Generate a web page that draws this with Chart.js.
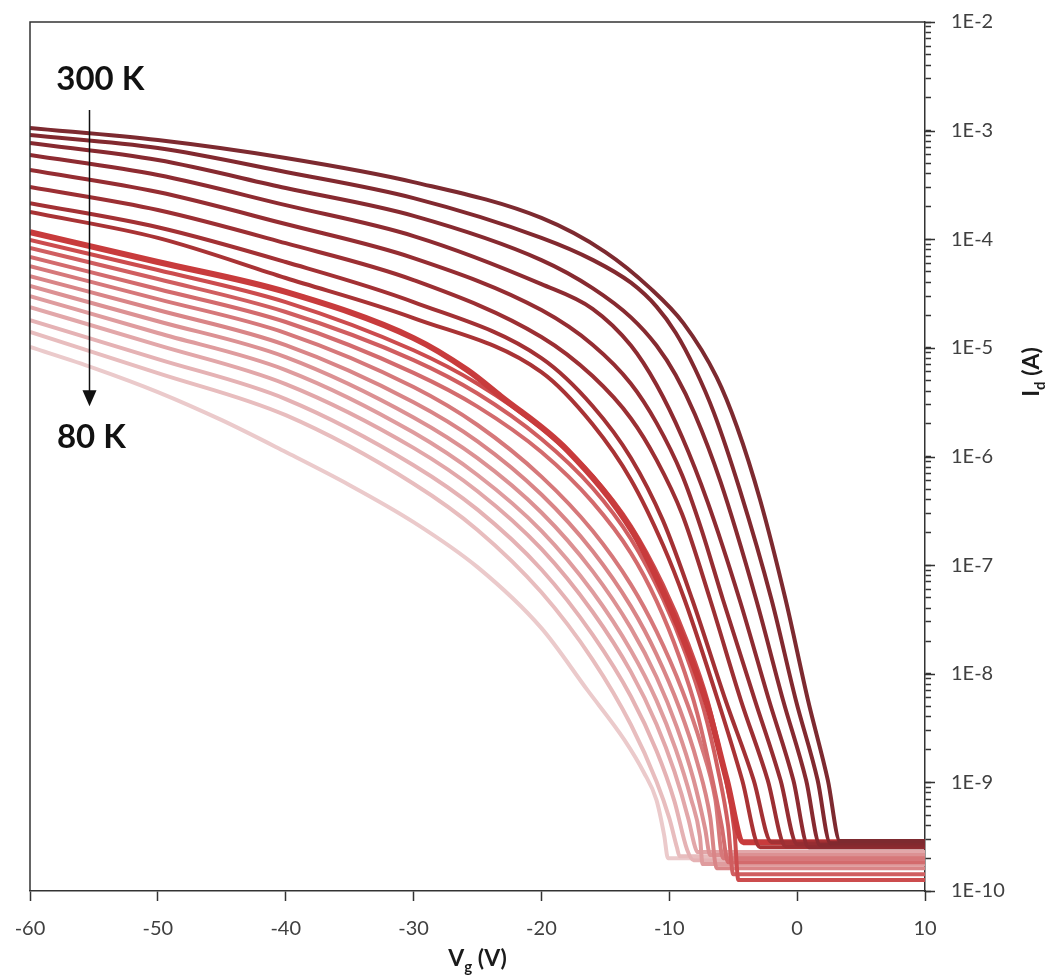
<!DOCTYPE html>
<html>
<head>
<meta charset="utf-8">
<script src="https://cdn.jsdelivr.net/npm/chart.js@4/dist/chart.umd.min.js"></script>
<style>
  html, body { margin: 0; padding: 0; background: #fff; }
</style>
</head>
<body>
<canvas id="myChart" width="1054" height="976"></canvas>
<script>

// gate voltage ticks and current decades
const vgTicks = [-60, -50, -40, -30, -20, -10, 0, 10];
const idExps = [-10, -9, -8, -7, -6, -5, -4, -3, -2];

// transfer curves, [Vg (V), Id (A)], 300 K first ... 80 K last
const curve01 = [[-60,1.06e-3],[-50,8.2e-4],[-40,5.6e-4],[-30,3.36e-4],[-20,1.57e-4],[-15,7.62e-5],[-11.5,3.55e-5],[-8.9,1.69e-5],[-6.3,5.38e-6],[-4.7,1.87e-6],[-2.9,4.0e-7],[-0.9,4.8e-8],[0.85,5.7e-9],[2.4,1.05e-9],[3.35,2.88e-10],[10,2.88e-10]];
const curve02 = [[-60,9.1e-4],[-50,6.92e-4],[-40,4.16e-4],[-30,2.39e-4],[-20,1.03e-4],[-16,6.46e-5],[-13,3.98e-5],[-11,2.4e-5],[-9.5,1.38e-5],[-8,6.46e-6],[-6.5,2.51e-6],[-4.5,5.0e-7],[-2.0,4.8e-8],[-0.1,5.7e-9],[1.6,1.05e-9],[2.6,2.75e-10],[10,2.75e-10]];
const curve03 = [[-60,7.69e-4],[-50,5.36e-4],[-40,2.96e-4],[-30,1.64e-4],[-20,6.43e-5],[-16,3.55e-5],[-13,1.91e-5],[-11,1.05e-5],[-9.5,5.62e-6],[-8,2.45e-6],[-6,5.89e-7],[-3.2,4.8e-8],[-1.1,5.7e-9],[0.7,1.05e-9],[1.8,2.64e-10],[10,2.64e-10]];
const curve04 = [[-60,5.96e-4],[-50,3.9e-4],[-40,2.06e-4],[-30,1.07e-4],[-20,3.86e-5],[-16,2.29e-5],[-13,1.05e-5],[-11,4.57e-6],[-9,1.51e-6],[-7,3.8e-7],[-4.5,4.8e-8],[-2.2,5.7e-9],[-0.3,1.05e-9],[0.9,2.53e-10],[10,2.53e-10]];
const curve05 = [[-60,4.34e-4],[-50,2.72e-4],[-40,1.38e-4],[-30,6.71e-5],[-20,2.23e-5],[-16,1.07e-5],[-13,4.68e-6],[-11,2.04e-6],[-9,6.76e-7],[-7.5,2.16e-7],[-5.8,4.8e-8],[-3.3,5.7e-9],[-1.3,1.05e-9],[0,2.7e-10],[10,2.7e-10]];
const curve06 = [[-60,3.03e-4],[-50,1.86e-4],[-40,9.2e-5],[-30,4.21e-5],[-20,1.26e-5],[-16,5.5e-6],[-13,2.24e-6],[-11,9.3e-7],[-9,2.95e-7],[-6.8,4.8e-8],[-4.4,5.7e-9],[-2.3,1.05e-9],[-0.9,2.58e-10],[10,2.58e-10]];
const curve07 = [[-60,2.15e-4],[-50,1.29e-4],[-40,6.17e-5],[-30,2.64e-5],[-20,8.05e-6],[-16,2.92e-6],[-13,9.7e-7],[-10.5,2.58e-7],[-8.2,4.8e-8],[-5.6,5.7e-9],[-3.4,1.05e-9],[-2,2.81e-10],[10,2.81e-10]];
const curve08 = [[-60,1.78e-4],[-50,1.03e-4],[-40,4.4e-5],[-30,1.88e-5],[-20,5.98e-6],[-16,1.98e-6],[-13,6.12e-7],[-10.5,1.54e-7],[-8.8,4.8e-8],[-6.2,5.7e-9],[-4.3,1.05e-9],[-2.9,2.53e-10],[10,2.53e-10]];
const curve09 = [[-60,1.16e-4],[-50,6.17e-5],[-40,3.27e-5],[-30,1.23e-5],[-25.8,6.25e-6],[-23.2,3.6e-6],[-18,1.15e-6],[-12.8,1.97e-7],[-10.2,4.8e-8],[-8.5,1.58e-8],[-7,5.0e-9],[-5.5,1.05e-9],[-4.2,2.81e-10],[10,2.81e-10]];
const curve10 = [[-60,9.83e-5],[-50,5.21e-5],[-40,2.64e-5],[-30,9.5e-6],[-25,4.68e-6],[-20,1.82e-6],[-16,6.61e-7],[-13,2.29e-7],[-10.5,6.61e-8],[-8.5,1.86e-8],[-7,5.62e-9],[-5.8,1.41e-9],[-4.9,3.55e-10],[-4.6,1.26e-10],[10,1.26e-10]];
const curve11 = [[-60,8.3e-5],[-50,4.3e-5],[-40,2.14e-5],[-30,7.72e-6],[-25,3.8e-6],[-20,1.45e-6],[-16,5.13e-7],[-13,1.74e-7],[-10.5,4.9e-8],[-8.7,1.51e-8],[-7.3,4.68e-9],[-6.2,1.32e-9],[-5.4,3.98e-10],[-5.0,1.43e-10],[10,1.43e-10]];
const curve12 = [[-60,6.86e-5],[-50,3.48e-5],[-40,1.73e-5],[-30,5.89e-6],[-25,2.88e-6],[-20,1.1e-6],[-16,3.8e-7],[-13,1.29e-7],[-11,4.68e-8],[-9.2,1.41e-8],[-7.8,4.27e-9],[-6.7,1.17e-9],[-5.9,3.98e-10],[-5.4,1.84e-10],[10,1.84e-10]];
const curve13 = [[-60,5.66e-5],[-50,2.81e-5],[-40,1.37e-5],[-30,4.36e-6],[-25,1.95e-6],[-20,6.53e-7],[-16,2.07e-7],[-13,6.61e-8],[-11,2.45e-8],[-9,7.08e-9],[-7.5,2.19e-9],[-6.4,7.0e-10],[-5.8,2.0e-10],[10,2.0e-10]];
const curve14 = [[-60,4.58e-5],[-50,2.23e-5],[-40,1.06e-5],[-30,3.16e-6],[-25,1.38e-6],[-20,4.47e-7],[-16,1.35e-7],[-13,4.17e-8],[-11,1.51e-8],[-9.2,4.79e-9],[-7.8,1.51e-9],[-6.8,4.79e-10],[-6.3,1.62e-10],[10,1.62e-10]];
const curve15 = [[-60,3.71e-5],[-50,1.76e-5],[-40,8.23e-6],[-30,2.29e-6],[-25,9.66e-7],[-20,3.05e-7],[-16,8.81e-8],[-13,2.63e-8],[-11,9.33e-9],[-9.4,3.21e-9],[-8.1,1.06e-9],[-7.2,3.76e-10],[-6.8,2.14e-10],[10,2.14e-10]];
const curve16 = [[-60,3.0e-5],[-50,1.37e-5],[-40,6.25e-6],[-30,1.66e-6],[-25,6.76e-7],[-20,2.07e-7],[-16,5.69e-8],[-13,1.64e-8],[-11,5.69e-9],[-9.5,2.02e-9],[-8.3,7.08e-10],[-7.6,3.16e-10],[-7.4,1.77e-10],[10,1.77e-10]];
const curve17 = [[-60,2.37e-5],[-50,1.06e-5],[-40,4.64e-6],[-30,1.2e-6],[-25,4.79e-7],[-20,1.41e-7],[-16,3.72e-8],[-13,1.04e-8],[-11,3.43e-9],[-9.6,1.26e-9],[-8.5,4.58e-10],[-8.0,2.58e-10],[-7.8,2.28e-10],[10,2.28e-10]];
const curve18 = [[-60,1.8e-5],[-50,7.88e-6],[-40,3.38e-6],[-30,8.32e-7],[-25,3.24e-7],[-20,9.12e-8],[-16,2.29e-8],[-13,6.17e-9],[-11,1.95e-9],[-9.6,6.73e-10],[-8.6,2.39e-10],[-8.1,1.92e-10],[10,1.92e-10]];
const curve19 = [[-60,1.4e-5],[-50,5.86e-6],[-40,2.4e-6],[-30,5.62e-7],[-25,2.11e-7],[-20,5.62e-8],[-16,1.35e-8],[-13,3.39e-9],[-11,1.02e-9],[-10,4.68e-10],[-9.4,2.51e-10],[-9.2,2.09e-10],[10,2.09e-10]];
const curve20 = [[-60,1.02e-5],[-55,6.52e-6],[-50,3.92e-6],[-45,2.16e-6],[-40,1.1e-6],[-35,5.45e-7],[-30,2.49e-7],[-25,9.58e-8],[-20,2.63e-8],[-16.4,7.06e-9],[-13.5,2.45e-9],[-12,1.24e-9],[-11,6.86e-10],[-10.4,3.26e-10],[-10.1,2.0e-10],[10,2.0e-10]];

const curves = [curve01, curve02, curve03, curve04, curve05, curve06, curve07, curve08, curve09, curve10,
                curve11, curve12, curve13, curve14, curve15, curve16, curve17, curve18, curve19, curve20];

const lineColors = [
  '#7d2a30', '#82292f', '#872a30', '#8e2b31', '#952d32', '#9c2f33', '#a33134', '#a93335',
  '#c83b3c', '#cc4c4e', '#d05e60', '#d36b6d', '#d6787a', '#d98587', '#dc9193', '#df9c9e',
  '#e2a7a9', '#e5b2b4', '#e8bdbe', '#ebcacb'
];

const axisColor = '#333333';
const labelColor = '#404040';

// temperature arrow, in data units
const arrowVg = -55.4;
const arrowTop = 1.55e-3;
const arrowTip = 2.9e-6;
const tempLabels = [
  { text: '300 K', vg: -54.5, id: 2.37e-3 },
  { text: '80 K', vg: -55.2, id: 1.2e-6 }
];

Chart.defaults.font.family = 'Lato';

const datasets = curves.map((c, i) => ({
  data: c.map(p => ({ x: p[0], y: p[1] })),
  borderColor: lineColors[i],
  borderWidth: i == 8 ? 6 : 4,
  pointRadius: 0,
  fill: false,
  cubicInterpolationMode: 'monotone'
}));

function drawSubText(ctx, parts, x, y, size) {
  const big = 'bold ' + size + 'px Lato';
  const small = 'bold ' + Math.round(size * 0.65) + 'px Lato';
  let w = 0;
  parts.forEach(p => { ctx.font = p[1] ? small : big; w += ctx.measureText(p[0]).width; });
  let cx = x - w / 2;
  parts.forEach(p => {
    ctx.font = p[1] ? small : big;
    ctx.fillText(p[0], cx, p[1] ? y + size * 0.25 : y);
    cx += ctx.measureText(p[0]).width;
  });
}

const framePlugin = {
  id: 'frame',
  afterDraw(chart) {
    const ctx = chart.ctx;
    const a = chart.chartArea;
    const xs = chart.scales.x;
    const ys = chart.scales.y;
    ctx.save();

    // left and top border
    ctx.strokeStyle = axisColor;
    ctx.lineWidth = 1.5;
    ctx.beginPath();
    ctx.moveTo(a.left, a.bottom);
    ctx.lineTo(a.left, a.top);
    ctx.lineTo(a.right, a.top);
    ctx.stroke();

    // longer ticks on each decade
    ctx.beginPath();
    idExps.forEach(e => {
      const py = Math.round(ys.getPixelForValue(Math.pow(10, e))) + 0.5;
      ctx.moveTo(a.right, py);
      ctx.lineTo(a.right + 10, py);
    });
    ctx.stroke();

    // arrow 300 K -> 80 K
    const ax = Math.round(xs.getPixelForValue(arrowVg)) + 0.5;
    const y1 = ys.getPixelForValue(arrowTop);
    const y2 = ys.getPixelForValue(arrowTip);
    ctx.strokeStyle = '#111';
    ctx.fillStyle = '#111';
    ctx.lineWidth = 1.5;
    ctx.beginPath();
    ctx.moveTo(ax, y1);
    ctx.lineTo(ax, y2 - 12);
    ctx.stroke();
    ctx.beginPath();
    ctx.moveTo(ax - 7, y2 - 16);
    ctx.lineTo(ax + 7, y2 - 16);
    ctx.lineTo(ax, y2);
    ctx.closePath();
    ctx.fill();

    ctx.textAlign = 'center';
    ctx.textBaseline = 'alphabetic';
    ctx.font = 'bold 33px Lato';
    tempLabels.forEach(t => {
      ctx.fillText(t.text, xs.getPixelForValue(t.vg), ys.getPixelForValue(t.id));
    });

    // axis titles with subscripts
    ctx.textAlign = 'left';
    ctx.fillStyle = '#1a1a1a';
    drawSubText(ctx, [['V', false], ['g', true], [' (V)', false]], (a.left + a.right) / 2, a.bottom + 75, 23);

    ctx.translate(a.right + 107, a.top + 350);
    ctx.rotate(-Math.PI / 2);
    drawSubText(ctx, [['I', false], ['d', true], [' (A)', false]], 0, 7, 23);

    ctx.restore();
  }
};

const config = {
  type: 'line',
  data: { datasets: datasets },
  options: {
    responsive: false,
    animation: false,
    events: [],
    layout: { padding: { left: 30, top: 22, right: 0, bottom: 0 } },
    plugins: {
      legend: { display: false },
      tooltip: { enabled: false }
    },
    scales: {
      x: {
        type: 'linear',
        position: 'bottom',
        min: vgTicks[0],
        max: vgTicks[vgTicks.length - 1],
        afterBuildTicks: s => { s.ticks = vgTicks.map(v => ({ value: v })); },
        ticks: { color: labelColor, font: { size: 20 }, padding: 16, maxRotation: 0, autoSkip: false },
        grid: { drawOnChartArea: false, drawTicks: true, tickLength: 10, tickColor: axisColor, tickWidth: 1.5 },
        border: { display: true, color: axisColor, width: 1.5 },
        afterFit: s => { s.height = 85; s.paddingLeft = 0; s.paddingRight = 0; }
      },
      y: {
        type: 'logarithmic',
        position: 'right',
        min: Math.pow(10, idExps[0]),
        max: Math.pow(10, idExps[idExps.length - 1]),
        afterBuildTicks: s => {
          const t = [];
          idExps.forEach((e, i) => {
            const n = i < idExps.length - 1 ? 9 : 1;
            for (let k = 1; k <= n; k++) t.push({ value: k * Math.pow(10, e) });
          });
          s.ticks = t;
        },
        ticks: {
          color: labelColor,
          font: { size: 20 },
          padding: 20,
          autoSkip: false,
          callback: v => {
            const e = Math.log10(v);
            return Math.abs(e - Math.round(e)) < 1e-6 ? '1E' + Math.round(e) : '';
          }
        },
        grid: { drawOnChartArea: false, drawTicks: true, tickLength: 6, tickColor: axisColor, tickWidth: 1.5 },
        border: { display: true, color: axisColor, width: 1.5 },
        afterFit: s => { s.width = 129; s.paddingTop = 0; s.paddingBottom = 0; }
      }
    }
  },
  plugins: [framePlugin]
};

const myChart = new Chart(
  document.getElementById('myChart'),
  config
);
</script>
</body>
</html>
